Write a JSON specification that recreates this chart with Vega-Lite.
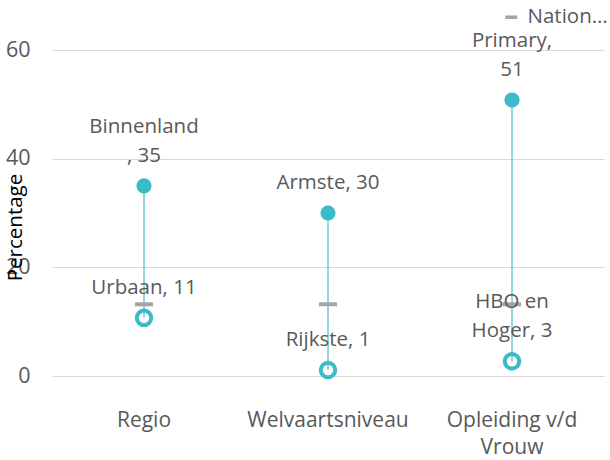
{
  "$schema": "https://vega.github.io/schema/vega-lite/v6.json",
  "autosize": "none",
  "width": 552,
  "height": 326,
  "padding": {"left": 52, "top": 50, "right": 6, "bottom": 84},
  "background": "white",
  "config": {
    "view": {"stroke": null},
    "font": "Open Sans",
    "axis": {"labelFont": "Open Sans", "titleFont": "Open Sans"}
  },
  "data": {
    "values": [
      {"categorie": "Regio", "hoog": 35, "hoog_label": "Binnenland\n, 35", "laag": 10.7, "laag_label": "Urbaan, 11", "nationaal": 13.2, "reeks": "Nationaal gemiddelde"},
      {"categorie": "Welvaartsniveau", "hoog": 30, "hoog_label": "Armste, 30", "laag": 1.1, "laag_label": "Rijkste, 1", "nationaal": 13.2, "reeks": "Nationaal gemiddelde"},
      {"categorie": "Opleiding v/d Vrouw", "hoog": 50.8, "hoog_label": "Primary,\n51", "laag": 2.7, "laag_label": "HBO en\nHoger, 3", "nationaal": 13.2, "reeks": "Nationaal gemiddelde"}
    ]
  },
  "encoding": {
    "x": {
      "field": "categorie",
      "type": "nominal",
      "sort": null,
      "scale": {"paddingInner": 0, "paddingOuter": 0},
      "axis": {
        "title": null,
        "domain": false,
        "ticks": false,
        "labelAngle": 0,
        "labelFontSize": 21,
        "labelColor": "#595959",
        "labelPadding": 33,
        "labelLineHeight": 27,
        "labelExpr": "datum.value == 'Opleiding v/d Vrouw' ? ['Opleiding v/d', 'Vrouw'] : datum.value"
      }
    }
  },
  "layer": [
    {
      "mark": {"type": "rule", "color": "#6FCAD4", "strokeWidth": 1.5},
      "encoding": {
        "y": {
          "field": "hoog",
          "type": "quantitative",
          "scale": {"domain": [0, 60], "nice": false},
          "axis": {
            "title": "Percentage",
            "titleFontSize": 20.5,
            "titleFontWeight": "normal",
            "titleColor": "#000000",
            "titleX": -27,
            "titleY": 177,
            "values": [0, 20, 40, 60],
            "domain": false,
            "ticks": false,
            "labelFontSize": 21.5,
            "labelColor": "#595959",
            "labelPadding": 22,
            "gridColor": "#D9D9D9",
            "gridWidth": 1
          }
        },
        "y2": {"field": "laag"}
      }
    },
    {
      "mark": {"type": "tick", "color": "#A5A5A5", "size": 18, "thickness": 4, "opacity": 1},
      "encoding": {
        "y": {"field": "nationaal", "type": "quantitative"},
        "color": {
          "field": "reeks",
          "type": "nominal",
          "scale": {"range": ["#A5A5A5"]},
          "legend": {
            "title": null,
            "orient": "none",
            "legendX": 449,
            "legendY": -43,
            "symbolType": "M-1,-0.3H1V0.3H-1Z",
            "symbolSize": 144,
            "symbolStrokeWidth": 0,
            "symbolFillColor": "#A5A5A5",
            "symbolOpacity": 1,
            "labelFontSize": 20.5,
            "labelColor": "#595959",
            "labelLimit": 86,
            "labelOffset": 6
          }
        }
      }
    },
    {
      "mark": {"type": "point", "shape": "circle", "filled": true, "size": 230, "color": "#3BBAC8", "opacity": 1},
      "encoding": {"y": {"field": "hoog", "type": "quantitative"}}
    },
    {
      "mark": {"type": "point", "shape": "circle", "filled": false, "size": 210, "strokeWidth": 4, "color": "#3BBAC8", "opacity": 1},
      "encoding": {"y": {"field": "laag", "type": "quantitative"}}
    },
    {
      "transform": [{"filter": "indexof(datum.hoog_label, '\\n') < 0"}],
      "mark": {"type": "text", "baseline": "bottom", "dy": -20, "fontSize": 20.5, "color": "#595959", "lineBreak": "\n", "lineHeight": 29},
      "encoding": {
        "y": {"field": "hoog", "type": "quantitative"},
        "text": {"field": "hoog_label"}
      }
    },
    {
      "transform": [{"filter": "indexof(datum.hoog_label, '\\n') >= 0"}],
      "mark": {"type": "text", "baseline": "bottom", "dy": -49, "fontSize": 20.5, "color": "#595959", "lineBreak": "\n", "lineHeight": 29},
      "encoding": {
        "y": {"field": "hoog", "type": "quantitative"},
        "text": {"field": "hoog_label"}
      }
    },
    {
      "transform": [{"filter": "indexof(datum.laag_label, '\\n') < 0"}],
      "mark": {"type": "text", "baseline": "bottom", "dy": -20, "fontSize": 20.5, "color": "#595959", "lineBreak": "\n", "lineHeight": 29},
      "encoding": {
        "y": {"field": "laag", "type": "quantitative"},
        "text": {"field": "laag_label"}
      }
    },
    {
      "transform": [{"filter": "indexof(datum.laag_label, '\\n') >= 0"}],
      "mark": {"type": "text", "baseline": "bottom", "dy": -49, "fontSize": 20.5, "color": "#595959", "lineBreak": "\n", "lineHeight": 29},
      "encoding": {
        "y": {"field": "laag", "type": "quantitative"},
        "text": {"field": "laag_label"}
      }
    }
  ]
}
